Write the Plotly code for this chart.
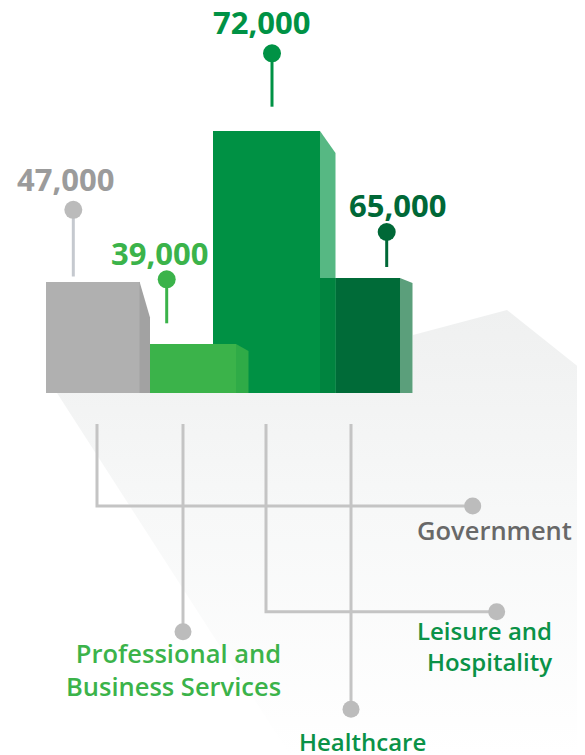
import plotly.graph_objects as go

# ---------------- data ----------------
categories = ["Government", "Professional and Business Services", "Healthcare", "Leisure and Hospitality"]
values = [47000, 39000, 72000, 65000]
# bar heights as drawn in the infographic (the artwork is not to scale), in px
drawn_heights = [111.5, 49, 262, 115]
# wrapped category names as printed
name_lines = [["Government"], ["Professional and", "Business Services"], ["Healthcare"], ["Leisure and", "Hospitality"]]

# ---------------- style ----------------
front_colors = ["#b0b0b0", "#3bb34a", "#009144", "#006b38"]
side_colors = ["#a2a2a2", "#2fab47", "#56b883", "#5b9f7b"]
occluded_side = "#00843f"
value_colors = ["#9b9b9b", "#3bb34a", "#009245", "#006837"]
pin_colors = ["#bbbbbb", "#3bb34a", "#009245", "#006837"]
stem_colors = ["#c5c9cf", "#3bb34a", "#009245", "#006837"]
name_colors = ["#686868", "#3bb34a", "#0a9247", "#0a9247"]
name_sizes = [25.5, 25.5, 24, 24]
connector_color = "#c4c4c4"
FONT = "Open Sans"

# ---------------- layout (px, page coordinates) ----------------
W, H = 585, 755
PAGE_MARGIN = 8                 # default body margin of the html page
BASE = 393                      # pixel row of the common bar bottom
bar_left = [46, 150, 213, 320]
bar_width = [93.5, 86, 107, 80]
side_depth = [10.5, 12.5, 15.5, 12.5]
side_drop = [36, 7, 22, 5]
bar_order = [2, 3, 1, 0]        # back to front
pin_x = [73.3, 166.7, 272, 386.7]
pin_gap = [5, 20.7, 24.3, 11]
stem_len = [66.7, 44, 53.4, 35]
value_x = [65.5, 159.7, 261, 397]
value_lift = [31.3, 26.5, 31.3, 26.8]

connector_x = [97, 183, 266, 351]
connector_top = 424
connector_end = [(472.7, 506), (183, 631.7), (496.7, 611.7), (351, 709.3)]
# (x, cap-centre row of first line, alignment) of each category name
name_pos = [(494, 530, "center"), (283, 648, "right"), (362, 741.5, "center"), (554, 626, "right")]


def Y(py):
    """pixel row -> data y (bars grow upward from 0)."""
    return BASE - py


fig = go.Figure()

# soft floor shadow
shadow_px = [(57, 393), (413, 393), (413, 335), (507, 310), (585, 372), (585, 755), (290, 755)]
fig.add_trace(go.Scatter(
    x=[p[0] for p in shadow_px] + [shadow_px[0][0]],
    y=[Y(p[1]) for p in shadow_px] + [Y(shadow_px[0][1])],
    mode="none", fill="toself",
    fillgradient=dict(type="vertical", colorscale=[[0, "#ffffff"], [0.55, "#f7f8f8"], [1, "#eff0f0"]],
                      start=Y(755), stop=Y(310)),
    hoverinfo="skip", showlegend=False))

# front faces of the bars
for i in bar_order:
    fig.add_trace(go.Bar(
        x=[bar_left[i]], y=[drawn_heights[i]], width=[bar_width[i]], offset=0,
        marker=dict(color=front_colors[i], line=dict(width=0)),
        name=categories[i], hovertext=[f"{categories[i]}: {values[i]:,}"], hoverinfo="text",
        showlegend=False))

# side faces
for i in bar_order:
    r = bar_left[i] + bar_width[i]
    d = side_depth[i]
    h = drawn_heights[i]
    fig.add_trace(go.Scatter(
        x=[r, r + d, r + d, r, r], y=[h, h - side_drop[i], 0, 0, h],
        mode="none", fill="toself", fillcolor=side_colors[i],
        hoverinfo="skip", showlegend=False))
    # part of the side hidden behind a neighbouring bar
    for j in range(len(categories)):
        if j != i and abs(bar_left[j] - r) < 1 and drawn_heights[j] < h:
            hj = drawn_heights[j]
            fig.add_trace(go.Scatter(
                x=[r, r + d, r + d, r, r], y=[hj, hj, 0, 0, hj],
                mode="none", fill="toself", fillcolor=occluded_side,
                hoverinfo="skip", showlegend=False))

# pins with value labels
for i in range(len(categories)):
    stem_bottom = drawn_heights[i] + pin_gap[i]
    dot_y = stem_bottom + stem_len[i]
    fig.add_trace(go.Scatter(
        x=[pin_x[i], pin_x[i]], y=[stem_bottom, dot_y], mode="lines",
        line=dict(color=stem_colors[i], width=3), hoverinfo="skip", showlegend=False))
    fig.add_trace(go.Scatter(
        x=[pin_x[i]], y=[dot_y], mode="markers",
        marker=dict(size=18, color=pin_colors[i], line=dict(width=0)),
        hoverinfo="skip", showlegend=False))
    fig.add_annotation(
        x=value_x[i], y=dot_y + value_lift[i], xref="x", yref="y",
        text=f"<b>{values[i]:,}</b>", showarrow=False, xanchor="center", yanchor="middle",
        font=dict(family=FONT, size=31, color=value_colors[i]))

# connectors to the category names
for k in range(len(connector_x)):
    ex, ey = connector_end[k]
    xs = [connector_x[k], connector_x[k]]
    ys = [Y(connector_top), Y(ey)]
    if abs(ex - connector_x[k]) > 1:
        xs.append(ex)
        ys.append(Y(ey))
    fig.add_trace(go.Scatter(
        x=xs, y=ys, mode="lines", line=dict(color=connector_color, width=3),
        hoverinfo="skip", showlegend=False))
    fig.add_trace(go.Scatter(
        x=[ex], y=[Y(ey)], mode="markers",
        marker=dict(size=17, color="#bcbcbc", line=dict(width=0)),
        hoverinfo="skip", showlegend=False))

for i in range(len(categories)):
    nx, ny, al = name_pos[i]
    multi = len(name_lines[i]) > 1
    fig.add_annotation(
        x=nx, y=Y(ny), xref="x", yref="y",
        text="<br>".join(name_lines[i]), showarrow=False,
        xanchor=al, yanchor="top" if multi else "middle", align=al,
        yshift=14 if multi else 0,
        font=dict(family=FONT, size=name_sizes[i], color=name_colors[i], weight=600))

fig.update_layout(
    width=W - PAGE_MARGIN, height=H - PAGE_MARGIN, autosize=False,
    margin=dict(l=0, r=0, t=0, b=0, pad=0),
    paper_bgcolor="white", plot_bgcolor="white",
    barmode="overlay", bargap=0,
    xaxis=dict(range=[PAGE_MARGIN, W], visible=False, fixedrange=True),
    yaxis=dict(range=[Y(H), Y(PAGE_MARGIN)], visible=False, fixedrange=True),
    showlegend=False,
)

fig.write_html("out.html")
